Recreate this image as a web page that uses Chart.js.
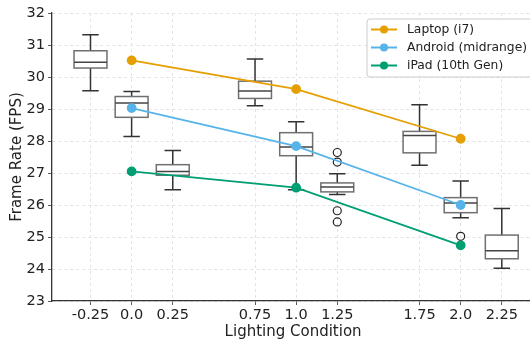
<!DOCTYPE html>
<html>
<head>
<meta charset="utf-8">
<script src="https://cdn.jsdelivr.net/npm/chart.js@4"></script>
<style>
  html, body { margin: 0; padding: 0; background: #fff; overflow: hidden; }
  #wrap { width: 530px; height: 339px; overflow: hidden; }
</style>
</head>
<body>
<div id="wrap"><canvas id="fpsChart" width="540" height="341"></canvas></div>
<script>
// Conditions d'éclairage (axe x) et ticks affichés
const conditions = [0, 1, 2];
const xTicks = [-0.25, 0, 0.25, 0.75, 1, 1.25, 1.75, 2, 2.25];
const xTickLabels = ['-0.25', '0.0', '0.25', '0.75', '1.0', '1.25', '1.75', '2.0', '2.25'];

// Moyennes par appareil
const laptop = [30.52, 29.62, 28.07];
const android = [29.03, 27.84, 26.0];
const ipad = [27.05, 26.54, 24.74];

// Boîtes à moustaches
const boxPos = [-0.25, 0, 0.25, 0.75, 1, 1.25, 1.75, 2, 2.25];
const boxLow = [29.57, 28.14, 26.48, 29.10, 26.48, 26.33, 27.24, 25.60, 24.02];
const boxQ1 = [30.28, 28.74, 26.93, 29.33, 27.54, 26.41, 27.63, 25.76, 24.32];
const boxMed = [30.46, 29.19, 27.05, 29.56, 27.81, 26.56, 28.17, 26.06, 24.57];
const boxQ3 = [30.82, 29.39, 27.26, 29.87, 28.26, 26.69, 28.30, 26.23, 25.06];
const boxHigh = [31.32, 29.55, 27.70, 30.56, 28.60, 26.98, 29.13, 26.75, 25.89];
const outlierPos = [1.25, 1.25, 1.25, 1.25, 2];
const outlierVal = [27.64, 27.34, 25.82, 25.47, 25.02];

const series = [
  { label: 'Laptop (i7)', values: laptop, color: '#E69F00' },
  { label: 'Android (midrange)', values: android, color: '#56B4E9' },
  { label: 'iPad (10th Gen)', values: ipad, color: '#009E73' }
];

// Dessin des boîtes sous les courbes
const boxPlugin = {
  id: 'boxes',
  beforeDatasetsDraw(chart) {
    const { ctx, scales: { x, y } } = chart;
    ctx.save();
    boxPos.forEach((p, i) => {
      const xl = x.getPixelForValue(p - 0.1);
      const xr = x.getPixelForValue(p + 0.1);
      const cl = x.getPixelForValue(p - 0.05);
      const cr = x.getPixelForValue(p + 0.05);
      const xc = x.getPixelForValue(p);
      const yLow = y.getPixelForValue(boxLow[i]);
      const yQ1 = y.getPixelForValue(boxQ1[i]);
      const yMed = y.getPixelForValue(boxMed[i]);
      const yQ3 = y.getPixelForValue(boxQ3[i]);
      const yHigh = y.getPixelForValue(boxHigh[i]);

      ctx.strokeStyle = '#333';
      ctx.lineWidth = 1.5;
      ctx.beginPath();
      ctx.moveTo(xc, yQ1); ctx.lineTo(xc, yLow);
      ctx.moveTo(cl, yLow); ctx.lineTo(cr, yLow);
      ctx.moveTo(xc, yQ3); ctx.lineTo(xc, yHigh);
      ctx.moveTo(cl, yHigh); ctx.lineTo(cr, yHigh);
      ctx.stroke();

      ctx.fillStyle = 'rgba(255,255,255,0.9)';
      ctx.fillRect(xl, yQ3, xr - xl, yQ1 - yQ3);
      ctx.strokeStyle = '#707070';
      ctx.strokeRect(xl, yQ3, xr - xl, yQ1 - yQ3);

      ctx.strokeStyle = '#444';
      ctx.beginPath();
      ctx.moveTo(xl, yMed); ctx.lineTo(xr, yMed);
      ctx.stroke();
    });
    ctx.restore();
  }
};

// Légende encadrée en haut à droite
const legendPlugin = {
  id: 'boxLegend',
  afterDraw(chart) {
    const ctx = chart.ctx;
    const left = 367, top = 19, w = 168, h = 58;
    ctx.save();
    ctx.fillStyle = 'rgba(255,255,255,0.85)';
    ctx.strokeStyle = '#cccccc';
    ctx.lineWidth = 1;
    ctx.beginPath();
    ctx.roundRect(left, top, w, h, 3);
    ctx.fill();
    ctx.stroke();
    ctx.font = '12.3px "DejaVu Sans"';
    ctx.textBaseline = 'middle';
    series.forEach((s, i) => {
      const yy = 29.5 + i * 18;
      ctx.strokeStyle = s.color;
      ctx.lineWidth = 2;
      ctx.beginPath();
      ctx.moveTo(371, yy); ctx.lineTo(397, yy);
      ctx.stroke();
      ctx.fillStyle = s.color;
      ctx.beginPath();
      ctx.arc(384, yy, 4, 0, Math.PI * 2);
      ctx.fill();
      ctx.fillStyle = '#222';
      ctx.fillText(s.label, 407, yy + 0.5);
    });
    ctx.restore();
  }
};

const datasets = series.map(s => ({
  label: s.label,
  data: conditions.map((c, i) => ({ x: c, y: s.values[i] })),
  showLine: true,
  borderColor: s.color,
  backgroundColor: s.color,
  borderWidth: 1.8,
  pointRadius: 4,
  pointHoverRadius: 4
}));
datasets.push({
  label: 'outliers',
  data: outlierPos.map((p, i) => ({ x: p, y: outlierVal[i] })),
  showLine: false,
  borderColor: '#222',
  backgroundColor: 'rgba(0,0,0,0)',
  borderWidth: 1.2,
  pointRadius: 4
});

const ctx = document.getElementById('fpsChart').getContext('2d');
new Chart(ctx, {
  type: 'scatter',
  data: { datasets },
  plugins: [boxPlugin, legendPlugin],
  options: {
    responsive: false,
    animation: false,
    layout: { padding: { top: 13, left: 0, right: 0, bottom: 0 } },
    plugins: {
      legend: { display: false },
      tooltip: { enabled: false }
    },
    scales: {
      x: {
        type: 'linear',
        min: -0.484,
        max: 2.447,
        afterBuildTicks: scale => {
          scale.ticks = xTicks.map(v => ({ value: v }));
        },
        afterFit: scale => { scale.height = 40; },
        ticks: {
          autoSkip: false,
          maxRotation: 0,
          color: '#222',
          padding: 2,
          font: { family: 'DejaVu Sans', size: 14.5 },
          callback: (value, index) => xTickLabels[index]
        },
        grid: {
          color: '#dddddd',
          lineWidth: 0.8,
          tickColor: '#333',
          tickLength: 4
        },
        border: { color: '#333', width: 1.3, dash: [3, 3] },
        title: {
          display: true,
          text: 'Lighting Condition',
          color: '#222',
          padding: { top: 0, bottom: 0 },
          font: { family: 'DejaVu Sans', size: 15 }
        }
      },
      y: {
        min: 23,
        max: 32,
        afterFit: scale => { scale.width = 52; },
        ticks: {
          stepSize: 1,
          color: '#222',
          padding: 3,
          font: { family: 'DejaVu Sans', size: 14.5 }
        },
        grid: {
          color: '#dddddd',
          lineWidth: 0.8,
          tickColor: '#333',
          tickLength: 4
        },
        border: { color: '#333', width: 1.3, dash: [3, 3] },
        title: {
          display: true,
          text: 'Frame Rate (FPS)',
          color: '#222',
          padding: { top: 8, bottom: 0 },
          font: { family: 'DejaVu Sans', size: 15 }
        }
      }
    }
  }
});
</script>
</body>
</html>
